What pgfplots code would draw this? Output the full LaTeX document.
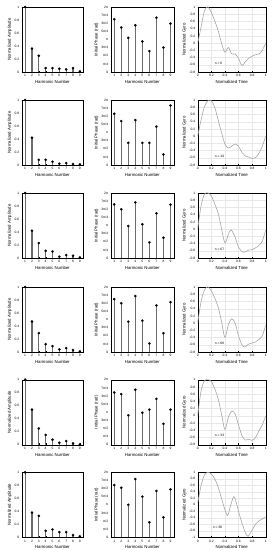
\documentclass[border=0pt]{standalone}
\usepackage{pgfplots}
\pgfplotsset{compat=1.18}
\usepackage{fontspec}
\setmainfont{Liberation Sans}
\newcommand{\tl}{\fontsize{3.3}{3.8}\selectfont}
\newcommand{\lb}{\fontsize{4.3}{5}\selectfont}
\pgfplotsset{
  base/.style={scale only axis, height=65pt, anchor=south west,
    /pgf/number format/assume math mode=true,
    tick label style={font=\tl}, label style={font=\lb},
    tick align=inside, major tick length=1.2pt, axis line style={line width=0.3pt},
    every tick/.style={line width=0.25pt}, xtick pos=bottom, ytick pos=left,
    xlabel style={yshift=3.5pt}, ylabel style={yshift=-4pt},
    xticklabel style={yshift=1pt}, yticklabel style={xshift=1pt}},
  stemstyle/.style={ycomb, draw=gray!85!black, line width=1.1pt, mark=*, mark size=1.2pt,
    mark options={fill=black, draw=black, line width=0.2pt}},
  amp/.style={base, clip=false, width=61.6pt, xmin=0.5, xmax=9.5, ymin=0, ymax=1,
    xtick={1,...,9}, ytick={0,0.2,0.4,0.6,0.8,1}, xlabel={Harmonic Number}, ylabel={Normalized Amplitude}},
  phase/.style={base, clip=false, width=63.3pt, xmin=0.5, xmax=9.5, ymin=0, ymax=6.2832,
    xtick={1,...,9}, ytick={0,0.7854,1.5708,2.3562,3.1416,3.9270,4.7124,5.4978,6.2832},
    yticklabels={0,π/4,π/2,3π/4,π,5π/4,3π/2,7π/4,2π},
    xlabel={Harmonic Number}, ylabel={Initial Phase (rad)}},
  gyro/.style={base, width=68pt, xmin=0, xmax=1, ymin=-0.8, ymax=1,
    xtick={0,0.2,0.4,0.6,0.8,1}, ytick={-1,-0.8,-0.6,-0.4,-0.2,0,0.2,0.4,0.6,0.8,1},
    grid=major, grid style={gray!18, line width=0.2pt},
    xlabel={Normalized Time}, ylabel={Normalized Gyro}},
  gline/.style={gray!70, line width=0.6pt, smooth, no marks},
}
\begin{document}
\begin{tikzpicture}
\path[use as bounding box] (0,0) rectangle (276pt,550pt);
% ---------------- Row 1 ----------------
\begin{axis}[amp, at={(21.7pt,478pt)}]
\addplot[stemstyle] coordinates {(1,1) (2,0.36) (3,0.25) (4,0.06) (5,0.06) (6,0.05) (7,0.04) (8,0.06) (9,0.01)};
\end{axis}
\begin{axis}[phase, at={(110.7pt,478pt)}]
\addplot[stemstyle] coordinates {(1,5.10) (2,4.30) (3,3.30) (4,4.52) (5,2.95) (6,2.02) (7,5.25) (8,2.36) (9,4.68)};
\end{axis}
\begin{axis}[gyro, at={(197.7pt,478pt)}]
\addplot[gline] coordinates {(0,0.0) (0.05,0.45) (0.1,0.9) (0.15,1.0) (0.2,0.85) (0.25,0.62) (0.3,0.35) (0.35,0.0) (0.4,-0.25) (0.45,-0.12) (0.5,-0.3) (0.55,-0.3) (0.6,-0.42) (0.65,-0.62) (0.7,-0.52) (0.75,-0.42) (0.8,-0.36) (0.85,-0.32) (0.9,-0.3) (0.95,-0.2) (1,0.0)};
\node[anchor=west, font=\tl] at (axis cs:0.2,-0.55) {n = 6};
\end{axis}
% ---------------- Row 2 ----------------
\begin{axis}[amp, at={(21.7pt,385pt)}]
\addplot[stemstyle] coordinates {(1,1) (2,0.42) (3,0.08) (4,0.08) (5,0.05) (6,0.02) (7,0.03) (8,0.015) (9,0.01)};
\end{axis}
\begin{axis}[phase, at={(110.7pt,385pt)}]
\addplot[stemstyle] coordinates {(1,4.95) (2,4.24) (3,2.14) (4,4.34) (5,2.14) (6,2.14) (7,3.71) (8,1.02) (9,5.75)};
\end{axis}
\begin{axis}[gyro, at={(197.7pt,385pt)}]
\addplot[gline] coordinates {(0,0.0) (0.05,0.45) (0.1,0.82) (0.15,0.98) (0.2,0.98) (0.25,0.8) (0.3,0.45) (0.35,0.1) (0.4,-0.22) (0.45,-0.33) (0.5,-0.28) (0.55,-0.22) (0.6,-0.28) (0.65,-0.45) (0.7,-0.55) (0.75,-0.58) (0.8,-0.62) (0.85,-0.6) (0.9,-0.48) (0.95,-0.28) (1,0.0)};
\node[anchor=west, font=\tl] at (axis cs:0.2,-0.55) {n = 10};
\end{axis}
% ---------------- Row 3 ----------------
\begin{axis}[amp, at={(21.7pt,292pt)}]
\addplot[stemstyle] coordinates {(1,1) (2,0.42) (3,0.23) (4,0.11) (5,0.10) (6,0.02) (7,0.045) (8,0.035) (9,0.01)};
\end{axis}
\begin{axis}[phase, at={(110.7pt,292pt)}]
\addplot[stemstyle] coordinates {(1,5.18) (2,4.71) (3,3.09) (4,5.37) (5,3.26) (6,1.51) (7,4.32) (8,1.96) (9,5.16)};
\end{axis}
\begin{axis}[gyro, at={(197.7pt,292pt)}]
\addplot[gline] coordinates {(0,0.0) (0.05,0.65) (0.1,0.97) (0.15,1.0) (0.2,0.92) (0.25,0.7) (0.3,0.45) (0.35,0.02) (0.4,-0.38) (0.45,-0.15) (0.49,-0.02) (0.55,-0.22) (0.6,-0.5) (0.67,-0.64) (0.75,-0.58) (0.8,-0.57) (0.85,-0.52) (0.9,-0.45) (0.95,-0.33) (1,-0.03)};
\node[anchor=west, font=\tl] at (axis cs:0.2,-0.55) {n = 67};
\end{axis}
% ---------------- Row 4 ----------------
\begin{axis}[amp, at={(21.7pt,198pt)}]
\addplot[stemstyle] coordinates {(1,1) (2,0.47) (3,0.29) (4,0.12) (5,0.09) (6,0.04) (7,0.06) (8,0.03) (9,0.01)};
\end{axis}
\begin{axis}[phase, at={(110.7pt,198pt)}]
\addplot[stemstyle] coordinates {(1,5.11) (2,4.71) (3,2.93) (4,5.41) (5,3.03) (6,0.82) (7,4.50) (8,1.82) (9,4.82)};
\end{axis}
\begin{axis}[gyro, at={(197.7pt,198pt)}]
\addplot[gline] coordinates {(0,0.0) (0.05,0.6) (0.1,0.92) (0.15,1.0) (0.2,0.9) (0.25,0.7) (0.3,0.45) (0.35,0.05) (0.4,-0.4) (0.45,-0.05) (0.5,0.12) (0.55,0.0) (0.6,-0.35) (0.65,-0.6) (0.69,-0.66) (0.75,-0.58) (0.8,-0.55) (0.85,-0.52) (0.9,-0.45) (0.95,-0.35) (1,-0.05)};
\node[anchor=west, font=\tl] at (axis cs:0.2,-0.55) {n = 66};
\end{axis}
% ---------------- Row 5 ----------------
\begin{axis}[amp, at={(21.7pt,105.3pt)}]
\addplot[stemstyle] coordinates {(1,1) (2,0.54) (3,0.25) (4,0.15) (5,0.077) (6,0.03) (7,0.056) (8,0.02) (9,0.005)};
\end{axis}
\begin{axis}[phase, at={(110.7pt,105.3pt)}]
\addplot[stemstyle] coordinates {(1,5.05) (2,4.89) (3,2.84) (4,5.31) (5,3.09) (6,3.39) (7,4.43) (8,2.02) (9,3.39)};
\end{axis}
\begin{axis}[gyro, at={(197.7pt,105.3pt)}]
\addplot[gline] coordinates {(0,0.0) (0.05,0.7) (0.1,0.97) (0.15,1.0) (0.2,0.95) (0.25,0.75) (0.3,0.48) (0.35,0.05) (0.4,-0.38) (0.45,-0.05) (0.5,0.13) (0.55,0.05) (0.6,-0.25) (0.65,-0.55) (0.7,-0.67) (0.75,-0.65) (0.8,-0.68) (0.85,-0.6) (0.9,-0.42) (0.95,-0.25) (1,0.0)};
\node[anchor=west, font=\tl] at (axis cs:0.2,-0.55) {n = 33};
\end{axis}
% ---------------- Row 6 ----------------
\begin{axis}[amp, at={(21.7pt,12.7pt)}]
\addplot[stemstyle] coordinates {(1,1) (2,0.38) (3,0.33) (4,0.10) (5,0.12) (6,0.08) (7,0.08) (8,0.035) (9,0.015)};
\end{axis}
\begin{axis}[phase, at={(110.7pt,12.7pt)}]
\addplot[stemstyle] coordinates {(1,5.05) (2,4.79) (3,3.14) (4,5.63) (5,3.93) (6,1.45) (7,4.48) (8,1.93) (9,4.63)};
\end{axis}
\begin{axis}[gyro, ymin=-1, at={(197.7pt,12.7pt)}]
\addplot[gline] coordinates {(0,0.05) (0.05,0.6) (0.1,0.92) (0.15,1.0) (0.2,0.95) (0.25,0.8) (0.3,0.55) (0.35,0.2) (0.4,-0.15) (0.44,-0.33) (0.48,-0.05) (0.53,0.25) (0.57,0.05) (0.6,-0.2) (0.65,-0.55) (0.7,-0.85) (0.74,-0.97) (0.8,-0.78) (0.85,-0.6) (0.9,-0.5) (0.95,-0.43) (1,-0.38)};
\node[anchor=west, font=\tl] at (axis cs:0.17,-0.7) {n = 38};
\end{axis}
\end{tikzpicture}
\end{document}
